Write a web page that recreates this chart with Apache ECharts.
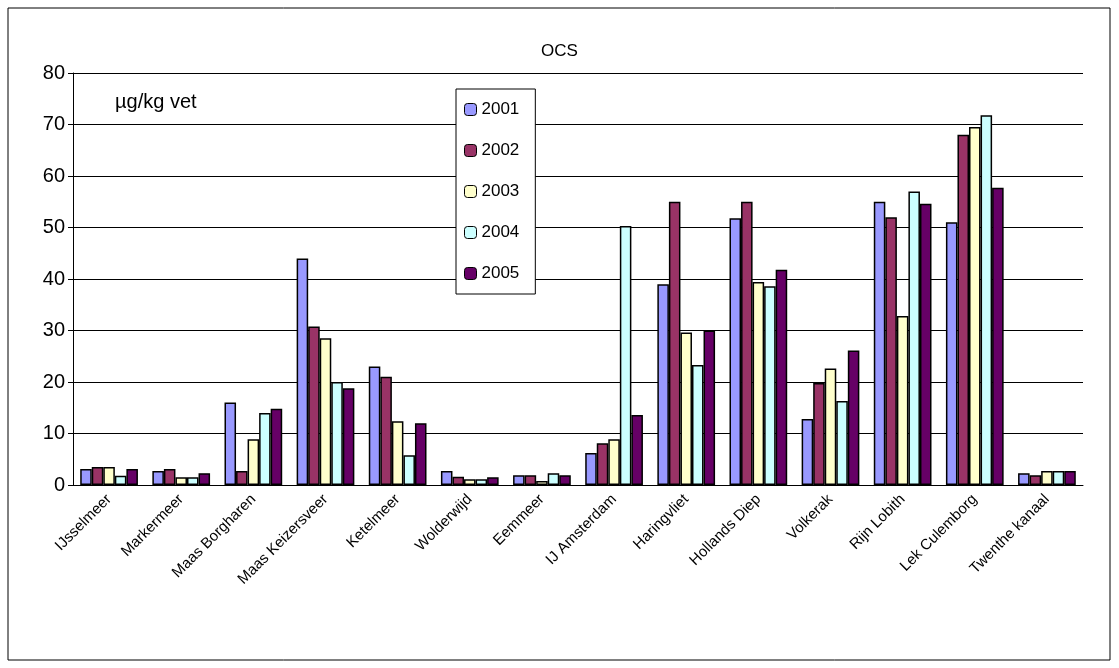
<!DOCTYPE html>
<html><head><meta charset="utf-8">
<script src="https://cdn.jsdelivr.net/npm/echarts@6/dist/echarts.min.js"></script>
<style>body{margin:0;background:#fff}#c{width:1119px;height:668px}</style>
</head><body><div id="c"></div>
<script>
var categories = ['IJsselmeer','Markermeer','Maas Borgharen','Maas Keizersveer','Ketelmeer','Wolderwijd','Eemmeer','IJ Amsterdam','Haringvliet','Hollands Diep','Volkerak','Rijn Lobith','Lek Culemborg','Twenthe kanaal'];
var years = ['2001','2002','2003','2004','2005'];
var v2001 = [3.1, 2.7, 16, 44, 23, 2.7, 1.9, 6.2, 39, 51.8, 12.8, 55, 51, 2.3];
var v2002 = [3.5, 3.1, 2.7, 30.8, 21, 1.6, 1.9, 8.1, 55, 55, 19.8, 52, 68, 1.9];
var v2003 = [3.5, 1.5, 8.9, 28.5, 12.4, 1.1, 0.8, 8.9, 29.6, 39.4, 22.6, 32.8, 69.5, 2.7];
var v2004 = [1.8, 1.5, 14, 20, 5.8, 1.1, 2.3, 50.3, 23.3, 38.6, 16.3, 57, 71.8, 2.7];
var v2005 = [3.1, 2.3, 14.8, 18.8, 12, 1.5, 1.9, 13.6, 30, 41.8, 26.1, 54.6, 57.7, 2.7];
var values = [v2001, v2002, v2003, v2004, v2005];
var colors = ['#9999ff', '#993366', '#ffffcc', '#ccffff', '#660066'];

var chart = echarts.init(document.getElementById('c'));
var font = 'Liberation Sans, Arial, sans-serif';
chart.setOption({
    animation: false,
    textStyle: {fontFamily: font, color: '#000'},
    graphic: [
        {type: 'rect', shape: {x: 8, y: 8, width: 1102, height: 652}, style: {fill: 'none', stroke: '#000', lineWidth: 1}},
        {type: 'text', left: 115, top: 92, style: {text: 'µg/kg vet', font: '20px ' + font, fill: '#000'}}
    ],
    title: {text: 'OCS', left: 'center', top: 38, textStyle: {fontSize: 17, fontWeight: 'normal', color: '#000', fontFamily: font}},
    legend: {
        orient: 'vertical', left: 456, top: 89, itemWidth: 12, itemHeight: 12, itemGap: 24,
        backgroundColor: '#fff', borderColor: '#000', borderWidth: 1, padding: [12, 16, 12, 8],
        textStyle: {fontSize: 17, color: '#000', fontFamily: font},
        itemStyle: {borderColor: '#000', borderWidth: 1},
        data: years
    },
    grid: {left: 73, right: 36, top: 73, bottom: 183},
    xAxis: {
        type: 'category', data: categories,
        axisLine: {lineStyle: {color: '#000'}},
        axisTick: {lineStyle: {color: '#000'}, length: 6},
        axisLabel: {rotate: 45, fontSize: 15, color: '#000', interval: 0, margin: 12}
    },
    yAxis: {
        type: 'value', min: 0, max: 80, interval: 10,
        axisLine: {show: true, lineStyle: {color: '#000'}},
        axisTick: {show: true, lineStyle: {color: '#000'}},
        axisLabel: {fontSize: 20, color: '#000'},
        splitLine: {lineStyle: {color: '#000'}}
    },
    series: years.map(function(y, i) {
        return {
            name: y, type: 'bar', data: values[i], barGap: '0%', barCategoryGap: '20%',
            itemStyle: {color: colors[i], borderColor: '#000', borderWidth: 1.5}
        };
    })
});
</script></body></html>
